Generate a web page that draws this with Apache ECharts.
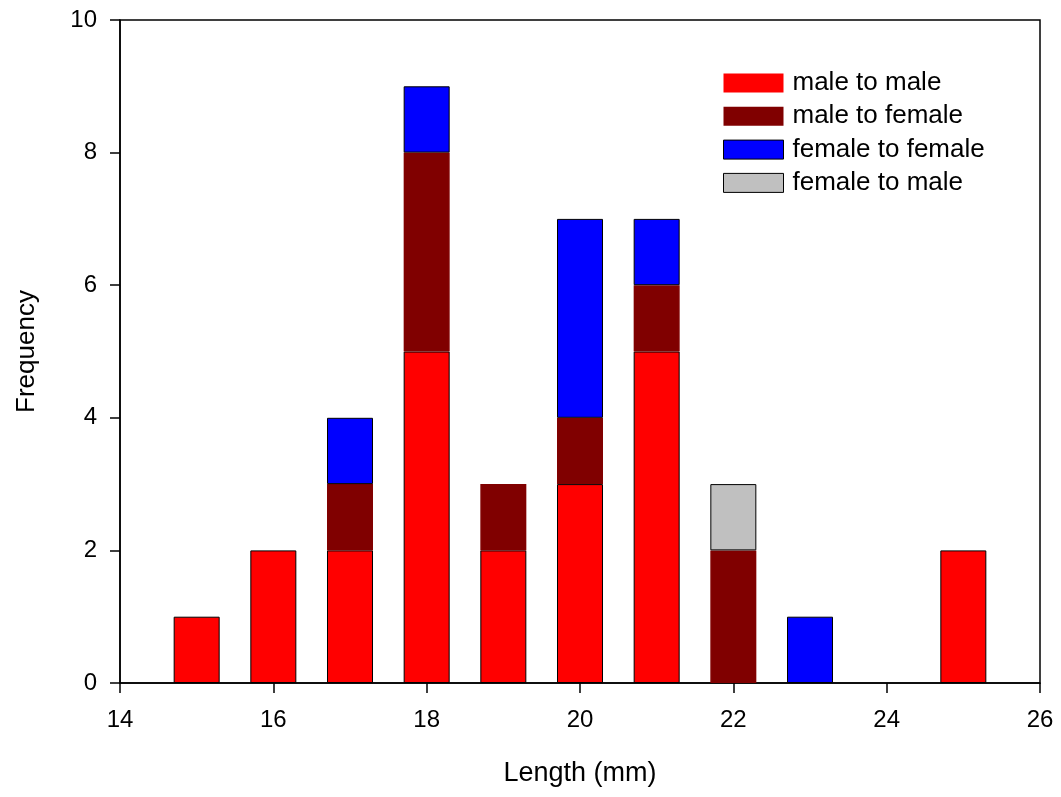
<!DOCTYPE html>
<html>
<head>
<meta charset="utf-8">
<script src="https://cdn.jsdelivr.net/npm/echarts@6/dist/echarts.min.js"></script>
<style>
  html, body { margin: 0; padding: 0; background: #fff; }
  #chart { width: 1061px; height: 797px; }
</style>
</head>
<body>
<div id="chart"></div>
<script>
// Length classes (mm) spanning the axis, and counts per transition type
const lengths = [14, 15, 16, 17, 18, 19, 20, 21, 22, 23, 24, 25, 26];
const maleToMale =     [0, 1, 2, 2, 5, 2, 3, 5, 0, 0, 0, 2, 0];
const maleToFemale =   [0, 0, 0, 1, 3, 1, 1, 1, 2, 0, 0, 0, 0];
const femaleToFemale = [0, 0, 0, 1, 1, 0, 3, 1, 0, 1, 0, 0, 0];
const femaleToMale =   [0, 0, 0, 0, 0, 0, 0, 0, 1, 0, 0, 0, 0];
const xTicks = [14, 16, 18, 20, 22, 24, 26];
const yTicks = [0, 2, 4, 6, 8, 10];

const font = '"Liberation Sans", Arial, sans-serif';

// empty classes are left out of the stack
const clean = values => values.map(v => (v > 0 ? v : '-'));
const onTick = (idx, val) => xTicks.includes(Number(val));

const chart = echarts.init(document.getElementById('chart'));

const seriesDefs = [
  { name: 'male to male', values: maleToMale, color: '#ff0000', border: '#000000', bw: 1 },
  { name: 'male to female', values: maleToFemale, color: '#800000', border: '#800000', bw: 1.5 },
  { name: 'female to female', values: femaleToFemale, color: '#0000ff', border: '#000000', bw: 1 },
  { name: 'female to male', values: femaleToMale, color: '#c0c0c0', border: '#000000', bw: 1 }
];

chart.setOption({
  animation: false,
  backgroundColor: '#ffffff',
  grid: {
    left: 120, right: 21, top: 20, bottom: 114,
    show: true, borderColor: '#000000', borderWidth: 1.5, backgroundColor: 'transparent'
  },
  legend: {
    orient: 'vertical',
    left: 718, top: 65,
    icon: 'rect',
    itemWidth: 60, itemHeight: 19, itemGap: 7.3,
    textStyle: { fontFamily: font, fontSize: 26, lineHeight: 26, color: '#000', padding: [0, 0, 0, 4] },
    data: [
      { name: 'male to male', itemStyle: { borderWidth: 0 } },
      { name: 'male to female', itemStyle: { borderWidth: 0 } },
      { name: 'female to female', itemStyle: { borderColor: '#000', borderWidth: 1 } },
      { name: 'female to male', itemStyle: { borderColor: '#000', borderWidth: 1 } }
    ]
  },
  xAxis: {
    type: 'category', data: lengths.map(String), boundaryGap: false,
    name: 'Length (mm)', nameLocation: 'middle', nameGap: 77,
    nameTextStyle: { fontFamily: font, fontSize: 27, color: '#000' },
    axisLine: { show: true, onZero: false, lineStyle: { color: '#000', width: 1.5 } },
    axisTick: { show: true, inside: false, length: 10, interval: onTick, lineStyle: { color: '#000', width: 1.5 } },
    axisLabel: { fontFamily: font, fontSize: 24, color: '#000', margin: 25, interval: onTick },
    splitLine: { show: false }
  },
  yAxis: {
    type: 'value', min: yTicks[0], max: yTicks[yTicks.length - 1], interval: 2,
    name: 'Frequency', nameLocation: 'middle', nameGap: 80, nameRotate: 90,
    nameTextStyle: { fontFamily: font, fontSize: 26, color: '#000' },
    axisLine: { show: true, lineStyle: { color: '#000', width: 1.5 } },
    axisTick: { show: true, inside: false, length: 10, lineStyle: { color: '#000', width: 1.5 } },
    axisLabel: { fontFamily: font, fontSize: 24, color: '#000', margin: 23 },
    splitLine: { show: false }
  },
  series: seriesDefs.map(s => ({
    name: s.name,
    type: 'bar',
    stack: 'total',
    barWidth: 46,
    data: clean(s.values),
    itemStyle: { color: s.color, borderColor: s.border, borderWidth: s.bw }
  }))
});
</script>
</body>
</html>
